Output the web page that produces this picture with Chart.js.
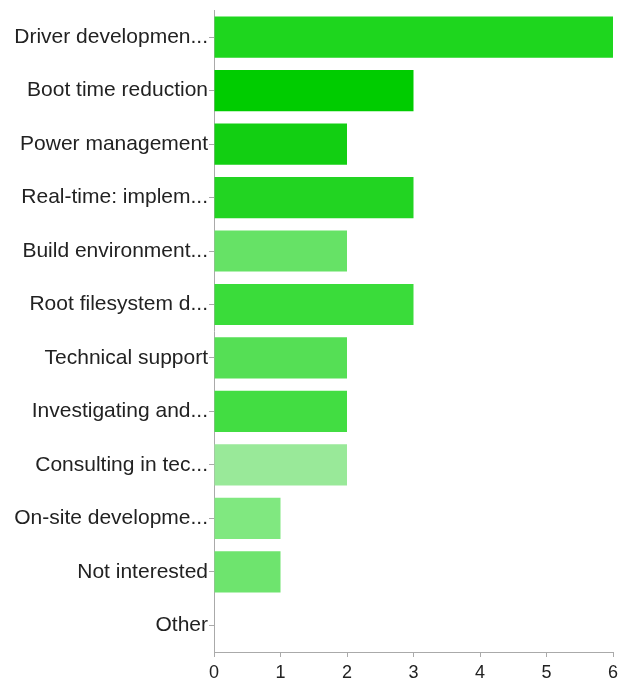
<!DOCTYPE html>
<html>
<head>
<meta charset="utf-8">
<script src="https://cdn.jsdelivr.net/npm/chart.js@4"></script>
<style>
  html, body { margin: 0; padding: 0; background: #fff; }
  #wrap { width: 621px; height: 685px; }
</style>
</head>
<body>
<div id="wrap"><canvas id="mycanvas"></canvas></div>
<script>
var categories = [
	"Driver developmen...",
	"Boot time reduction",
	"Power management",
	"Real-time: implem...",
	"Build environment...",
	"Root filesystem d...",
	"Technical support",
	"Investigating and...",
	"Consulting in tec...",
	"On-site developme...",
	"Not interested",
	"Other"
];
var counts = [6, 3, 2, 3, 2, 3, 2, 2, 2, 1, 1, 0];
var barColors = [
	"#1ed61e", "#00cc00", "#12cf12", "#22d422", "#66e266", "#3adc3a",
	"#55df55", "#42dd42", "#99e999", "#80e880", "#6ee46e", "#66e266"
];
var xTicks = [0, 1, 2, 3, 4, 5, 6];

var chartdata = {
	labels: categories,
	datasets: [
		{
			label: 'Responses',
			backgroundColor: barColors,
			borderWidth: 0,
			barPercentage: 0.77,
			categoryPercentage: 1.0,
			data: counts
		}
	]
};

var ctx = document.getElementById("mycanvas");

var barGraph = new Chart(ctx, {
	type: 'bar',
	data: chartdata,
	options: {
		indexAxis: 'y',
		responsive: true,
		maintainAspectRatio: false,
		animation: false,
		layout: { padding: { top: 10, right: 8, bottom: 0, left: 0 } },
		plugins: {
			legend: { display: false },
			tooltip: { enabled: false }
		},
		scales: {
			x: {
				min: xTicks[0],
				max: xTicks[xTicks.length - 1],
				afterBuildTicks: function(axis) {
					axis.ticks = xTicks.map(function(v) { return { value: v }; });
				},
				afterFit: function(axis) {
					axis.height = 33;
					axis.paddingLeft = 0;
					axis.paddingRight = 0;
				},
				border: { display: true, color: '#aaa', width: 1 },
				grid: {
					drawOnChartArea: false,
					drawTicks: true,
					tickLength: 5,
					color: '#aaa'
				},
				ticks: {
					color: '#222',
					padding: 5,
					font: { family: 'Liberation Sans, Arial, sans-serif', size: 18 }
				}
			},
			y: {
				afterFit: function(axis) { axis.width = 214; },
				border: { display: true, color: '#aaa', width: 1 },
				grid: {
					offset: false,
					drawOnChartArea: false,
					drawTicks: true,
					tickLength: 5,
					color: '#aaa'
				},
				ticks: {
					color: '#222',
					padding: 1,
					autoSkip: false,
					font: { family: 'Liberation Sans, Arial, sans-serif', size: 21, lineHeight: 0.9 }
				}
			}
		}
	}
});
</script>
</body>
</html>
